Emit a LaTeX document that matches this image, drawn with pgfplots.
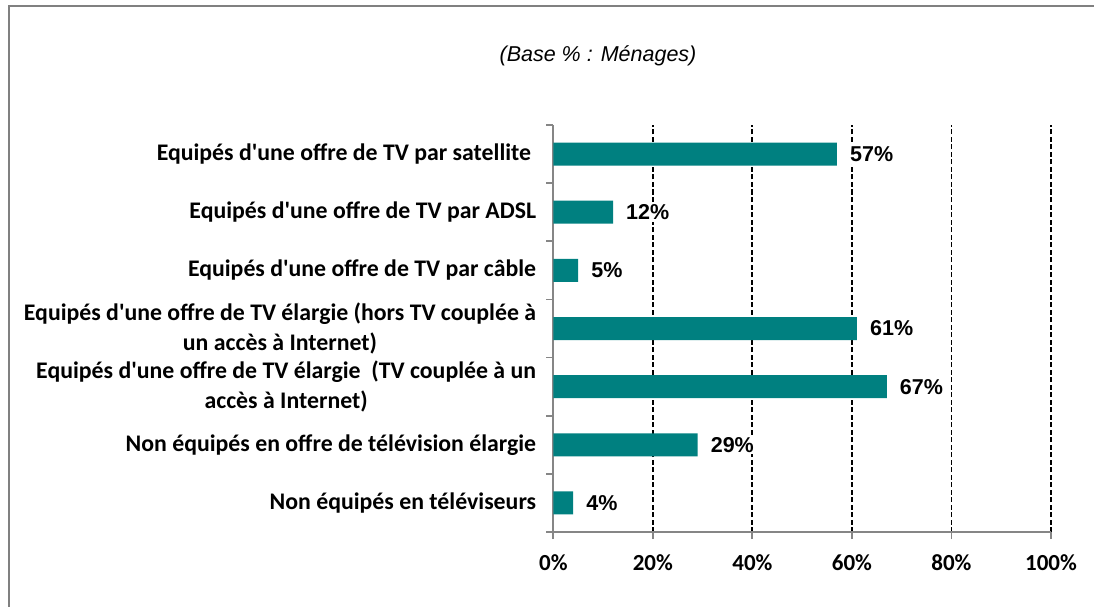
\documentclass[border=0pt]{standalone}
\usepackage{fontspec}
\usepackage{pgfplots}
\pgfplotsset{compat=1.18}
\setmainfont{Carlito}
\newfontfamily\arialfont{Liberation Sans}
\definecolor{tealbar}{RGB}{0,128,128}
\definecolor{axgray}{RGB}{134,134,134}
\definecolor{framegray}{RGB}{128,128,128}
\newcommand{\q}{\textquotesingle}
\begin{document}
\begin{tikzpicture}
\useasboundingbox (0,0) rectangle (1094pt,606pt);
\fill[white] (0,0) rectangle (1094pt,606pt);
\draw[framegray, line width=2pt] (8.7pt,-3pt) -- (8.7pt,600pt) -- (1097pt,600pt);
\node[font=\arialfont\itshape\fontsize{21.5}{25}\selectfont] at (598pt,550pt) {(Base \% : Ménages)};
\begin{axis}[
  at={(553.3pt,74pt)}, anchor=south west,
  scale only axis, width=497.7pt, height=407pt,
  xbar, bar width=23pt,
  xmin=0, xmax=100, ymin=-0.5, ymax=6.5,
  axis x line=bottom, axis y line=left,
  axis line style={-, axgray, line width=1.8pt},
  xtick={0,20,...,100},
  xticklabels={0\%,20\%,40\%,60\%,80\%,100\%},
  xticklabel style={font=\bfseries\fontsize{23}{27}\selectfont, text=black, yshift=-12pt},
  ytick={0,...,6},
  yticklabels={
    {Non équipés en téléviseurs},
    {Non équipés en offre de télévision élargie},
    {Equipés d\q une offre de TV élargie\ \ (TV couplée à un\\accès à Internet)},
    {Equipés d\q une offre de TV élargie (hors TV couplée à\\un accès à Internet)},
    {Equipés d\q une offre de TV par câble},
    {Equipés d\q une offre de TV par ADSL},
    {Equipés d\q une offre de TV par satellite\hspace{5pt}}
  },
  yticklabel style={font=\bfseries\fontsize{23.8}{29.5}\selectfont, align=center, text=black, inner sep=0pt, xshift=-10pt},
  minor ytick={-0.5,0.5,...,6.5},
  tick align=outside,
  major tick length=7pt, minor tick length=7pt,
  major y tick style={draw=none},
  minor y tick style={axgray, line width=1.8pt},
  x tick style={axgray, line width=1.8pt},
  xmajorgrids,
  major grid style={black, line width=1.8pt, dash pattern=on 5pt off 2.5pt},
  nodes near coords={\pgfmathprintnumber[assume math mode=true]{\pgfplotspointmeta}\%},
  every node near coord/.append style={anchor=west, fill=white, inner sep=2pt, xshift=11pt, text=black, font=\arialfont\bfseries\fontsize{21.5}{25}\selectfont},
]
\addplot[fill=tealbar, draw=none] coordinates {(57,6) (12,5) (5,4) (61,3) (67,2) (29,1) (4,0)};
\end{axis}
\end{tikzpicture}
\end{document}
